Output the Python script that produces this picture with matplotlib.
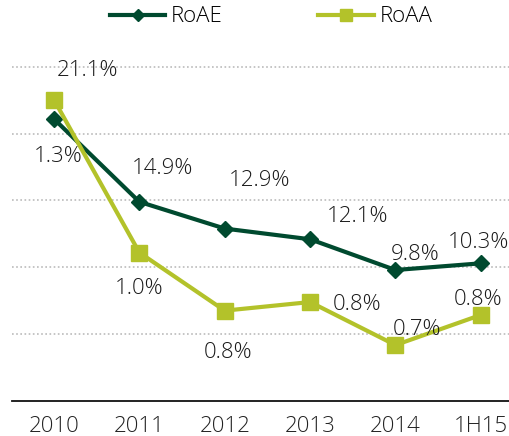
import matplotlib
matplotlib.use("Agg")
import matplotlib.pyplot as plt

# return ratios per period
periods = ["2010", "2011", "2012", "2013", "2014", "1H15"]
roae = [21.1, 14.9, 12.9, 12.1, 9.8, 10.3]
roaa = [1.31, 0.955, 0.82, 0.84, 0.74, 0.81]

# label offsets in pixels (dx, dy), hand placed
roae_off = [(33, 43), (23, 28), (35, 43), (47, 17), (20, 10), (-2, 15)]
roaa_off = [(4, -62), (0, -41), (3, -47), (47, -8), (22, 10), (-3, 10)]

dark = "#004A2F"
lime = "#B3C22A"
plt.rcParams['font.family'] = ['Open Sans', 'DejaVu Sans']
fs = 16

fig = plt.figure(figsize=(5.09, 4.36), dpi=100)
ax = fig.add_axes([12 / 509, 1 - 401 / 436, 1 - 12 / 509, 401 / 436])
ax2 = ax.twinx()

x = list(range(len(periods)))
l1, = ax.plot(x, roae, color=dark, lw=3, marker='D', ms=8, label='RoAE', zorder=3)
l2, = ax2.plot(x, roaa, color=lime, lw=3, marker='s', ms=12, label='RoAA', zorder=3)

ax.set_ylim(0, 30)
ax2.set_ylim(0.61, 1.542)
ax.set_xlim(-0.492, 5.33)

ax.set_yticks([5, 10, 15, 20, 25])
ax.yaxis.grid(True, color='#BBBBBB', lw=1.2, linestyle=(0, (1, 1.5)))
ax.tick_params(axis='y', length=0, labelleft=False)
ax2.set_yticks([])

ax.set_xticks(x)
ax.set_xticklabels(periods, fontsize=fs, fontweight='light')
ax.tick_params(axis='x', length=0, pad=11, colors='#222222')

for a in (ax, ax2):
    for s in ('top', 'right', 'left', 'bottom'):
        a.spines[s].set_visible(False)
ax.spines['bottom'].set_visible(True)
ax.spines['bottom'].set_color('#111111')
ax.spines['bottom'].set_linewidth(1.3)

for xi, v, (dx, dy) in zip(x, roae, roae_off):
    ax.annotate('{:.1f}%'.format(v), xy=(xi, v), xytext=(dx, dy),
                textcoords='offset pixels', ha='center', va='baseline',
                fontsize=fs, fontweight='light', color='#1a1a1a', zorder=5)
for xi, v, (dx, dy) in zip(x, roaa, roaa_off):
    ax2.annotate('{:.1f}%'.format(v), xy=(xi, v), xytext=(dx, dy),
                 textcoords='offset pixels', ha='center', va='baseline',
                 fontsize=fs, fontweight='light', color='#1a1a1a', zorder=5)

ax2.legend(handles=[l1, l2], loc='center', bbox_to_anchor=(0.521, 0.958),
           ncol=2, frameon=False, handlelength=2.5,
           handletextpad=0.25, columnspacing=4.3, markerscale=0.75,
           prop={'size': fs, 'weight': 'light'})

fig.savefig('out.png', dpi=100)
